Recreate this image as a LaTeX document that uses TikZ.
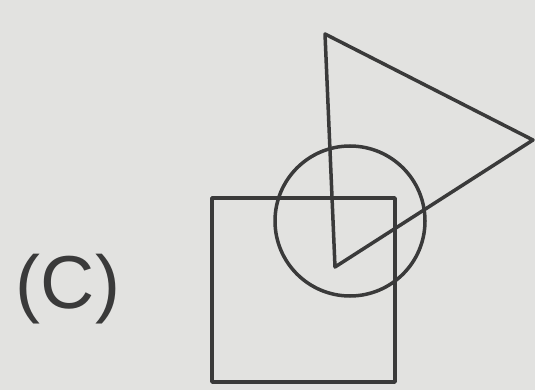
\documentclass[tikz,border=0pt]{standalone}
\usepackage{fontspec}
\setmainfont{Liberation Sans}
\definecolor{bg}{HTML}{E2E2E0}
\definecolor{ink}{HTML}{3A3A3A}
\begin{document}
\begin{tikzpicture}[x=1pt,y=-1pt,
  shape line/.style={draw=ink,line width=3.5pt,line join=round,line cap=round}]
\fill[bg] (0,0) rectangle (535,390);
\useasboundingbox (0,0) rectangle (535,390);
\node[text=ink,font=\fontsize{75}{75}\selectfont,inner sep=0pt] (lbl) at (68,289) {(C)};
\draw[shape line] (212,198) rectangle (395,382);
\draw[shape line] (350,221) circle[radius=75];
\draw[shape line] (325,34) -- (533,140) -- (335,267) -- cycle;
\end{tikzpicture}
\end{document}
